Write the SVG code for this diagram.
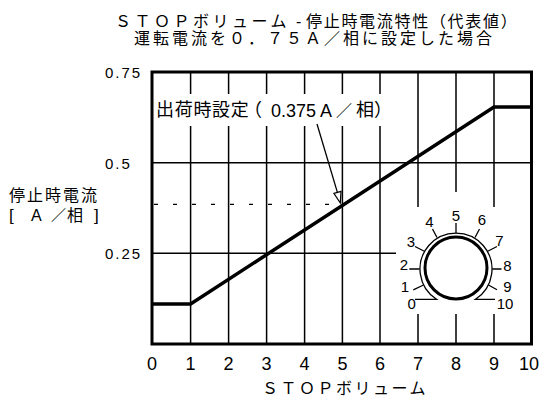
<svg xmlns="http://www.w3.org/2000/svg" width="541" height="399" viewBox="0 0 541 399">
<defs>
<style>
.grid{stroke:#000;stroke-width:1.5;fill:none}
.frame{stroke:#000;stroke-width:3;fill:none}
.curve{stroke:#000;stroke-width:3.5;fill:none;stroke-linejoin:miter}
.thin{stroke:#000;stroke-width:1.3;fill:none}
.cjk{font-family:"Noto Sans CJK JP",sans-serif;fill:#000}
.num{font-family:"Liberation Sans",Arial,sans-serif;fill:#000}
.bg{fill:#fff;stroke:none}
</style>
</defs>
<rect width="541" height="399" fill="#fff"/>
<g id="title" class="cjk" font-size="16">
<text y="26.5"><tspan x="115" letter-spacing="3.5">ＳＴＯＰボリューム</tspan><tspan x="296" class="num">-</tspan><tspan x="306" letter-spacing="1.7">停止時電流特性（代表値）</tspan></text>
<text x="134" y="43.5" letter-spacing="3">運転電流を０．７５Ａ／相に設定した場合</text>
</g>
<g id="grid">
<path class="grid" d="M190.6,72V344M228.6,72V344M266.6,72V344M304.6,72V344M342.4,72V344M380,72V344M418,72V344M456,72V344M494,72V344"/>
<path class="grid" d="M152,162.7H531M152,253.3H531"/>
<path d="M154,204.3H342" stroke="#000" stroke-width="1.3" stroke-dasharray="4 15"/>
</g>
<g id="annotation-bg"><rect class="bg" x="154" y="94" width="229" height="32"/></g>
<g id="dial-bg">
<rect class="bg" x="396" y="207" width="134" height="107"/>
<rect class="bg" x="447" y="192" width="18" height="16"/>
</g>
<g id="frame"><rect class="frame" x="152" y="72" width="379.5" height="272"/></g>
<g id="curve"><path class="curve" d="M152,304H190.6L494,107H531"/></g>
<g id="annotation">
<text class="cjk" y="116" font-size="18"><tspan x="156" letter-spacing="0.7">出荷時設定</tspan><tspan x="244">（</tspan><tspan x="271" dy="0.5" class="num">0.375</tspan><tspan x="320" class="num">A</tspan><tspan x="336" dy="-0.5" font-size="16">／</tspan><tspan x="356">相</tspan><tspan x="374">）</tspan></text>
</g>
<g id="connectors">
<path class="thin" d="M317,124L337.4,192.4"/>
<path d="M340.3,203L333.9,193.4L341,191.4Z" fill="#fff" stroke="#000" stroke-width="1.2" stroke-linejoin="miter"/>
</g>
<g id="dial">
<path class="thin" stroke-width="1.5" d="M415,299.3H436.5A36,36 0 1 1 475.5,299.3H495"/>
<circle cx="456" cy="268" r="31" fill="#fff" stroke="#000" stroke-width="3"/>
<path class="thin" d="M413.3,289.8L423.5,285M409.3,269H419.5M415,246.5L424.8,251.5M432.5,229L437,237.5M456,223V233M479.5,229L475,237.5M497,246.5L487.2,251.5M501.5,269H492.3M497,289.8L488.5,285"/>
<g class="num" font-size="15" text-anchor="middle">
<text x="411.7" y="309">0</text>
<text x="405" y="291.5">1</text>
<text x="404" y="270">2</text>
<text x="411" y="246.7">3</text>
<text x="429.5" y="226.7">4</text>
<text x="456" y="220.7">5</text>
<text x="482" y="225">6</text>
<text x="499.5" y="246">7</text>
<text x="507.5" y="270.7">8</text>
<text x="507.5" y="291.7">9</text>
<text x="505" y="309">10</text>
</g>
</g>
<g id="y-axis-labels" class="num" font-size="15" letter-spacing="2">
<text x="105" y="78">0.75</text>
<text x="105" y="168.5">0.5</text>
<text x="105" y="259.3">0.25</text>
</g>
<g id="y-axis-title" font-size="16">
<text class="cjk" x="9" y="201" letter-spacing="2">停止時電流</text>
<text class="cjk" y="221"><tspan x="9" class="num" font-size="17">[</tspan><tspan x="31" class="num">A</tspan><tspan x="51" font-size="15">／</tspan><tspan x="67">相</tspan><tspan x="94" class="num" font-size="17">]</tspan></text>
</g>
<g id="x-axis-labels" class="num" font-size="18" text-anchor="middle">
<text x="152" y="370">0</text>
<text x="190.6" y="370">1</text>
<text x="228.6" y="370">2</text>
<text x="266.6" y="370">3</text>
<text x="304.6" y="370">4</text>
<text x="342.4" y="370">5</text>
<text x="380" y="370">6</text>
<text x="418" y="370">7</text>
<text x="456" y="370">8</text>
<text x="494" y="370">9</text>
<text x="529" y="370">10</text>
</g>
<g id="x-axis-title"><text class="cjk" x="262" y="394" font-size="16" letter-spacing="2.5">ＳＴＯＰボリューム</text></g>
</svg>
